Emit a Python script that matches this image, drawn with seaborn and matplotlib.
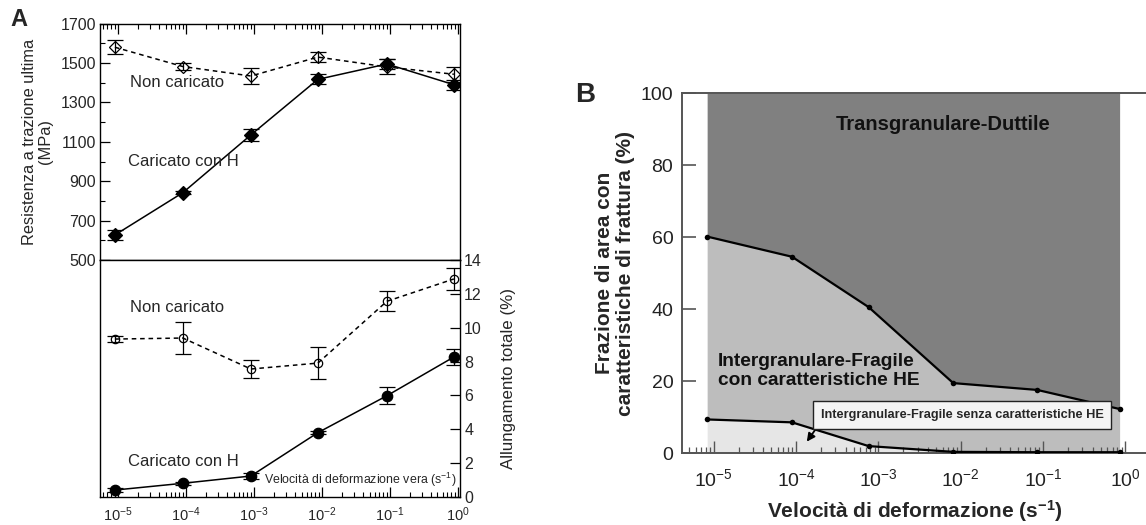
import numpy as np
import pandas as pd
import matplotlib
matplotlib.use('Agg')
import matplotlib.pyplot as plt
import seaborn as sns
from matplotlib.ticker import LogLocator, NullFormatter, MultipleLocator, FixedLocator

sns.set_theme(style='ticks')
plt.rcParams['font.family'] = ['Liberation Sans', 'DejaVu Sans']
plt.rcParams['mathtext.fontset'] = 'custom'
plt.rcParams['mathtext.rm'] = 'Liberation Sans'
plt.rcParams['mathtext.it'] = 'Liberation Sans:italic'
plt.rcParams['mathtext.bf'] = 'Liberation Sans:bold'
plt.rcParams['axes.unicode_minus'] = False

# ---------------- data: panel A ----------------
rate_A = [9e-6, 9e-5, 9e-4, 8.7e-3, 9e-2, 0.87]
uts_unch = [1580, 1482, 1434, 1530, 1480, 1443]
uts_unch_err = [35, 18, 42, 26, 38, 38]
uts_h = [627, 842, 1135, 1417, 1495, 1390]
uts_h_err = [23, 8, 31, 25, 25, 25]
el_unch = [9.33, 9.39, 7.56, 7.91, 11.56, 12.88]
el_unch_err = [0.2, 0.93, 0.55, 0.95, 0.58, 0.66]
el_h = [0.41, 0.81, 1.24, 3.8, 5.98, 8.27]
el_h_err = [0.1, 0.1, 0.15, 0.1, 0.5, 0.45]
uts_ticks = [500, 700, 900, 1100, 1300, 1500, 1700]
el_ticks = [0, 2, 4, 6, 8, 10, 12, 14]

# ---------------- data: panel B ----------------
rate_B = [8.3e-6, 8.9e-5, 7.6e-4, 8.1e-3, 8.5e-2, 0.85]
frac_upper = [60.2, 54.6, 40.6, 19.5, 17.6, 12.3]
frac_lower = [9.4, 8.6, 2.0, 0.4, 0.3, 0.3]
rate_ticks = [1e-5, 1e-4, 1e-3, 1e-2, 1e-1, 1e0]
frac_ticks = [0, 20, 40, 60, 80, 100]

fig = plt.figure(figsize=(11.46, 5.25), dpi=100)
W, H = 1146, 525

def rect(x0, y0, x1, y1):
    return [x0 / W, 1 - y1 / H, (x1 - x0) / W, (y1 - y0) / H]

axT = fig.add_axes(rect(100, 23.6, 460, 260))
axL = fig.add_axes(rect(100, 260, 460, 497))
axB = fig.add_axes(rect(681.7, 93.3, 1160, 453.3))

xlimA = (10 ** -5.265, 10 ** 0.03)
dash = (0, (3, 2.5))
minor_subs = np.arange(2, 10)

def series(ax, x, y, err, marker, filled, ls, ms):
    df = pd.DataFrame({'x': x, 'y': y})
    sns.lineplot(data=df, x='x', y='y', ax=ax, color='black', lw=1.1, linestyle=ls,
                 marker=marker, markersize=ms, markeredgecolor='black',
                 markerfacecolor='black' if filled else 'none', markeredgewidth=0.9,
                 zorder=3)
    ax.errorbar(x, y, yerr=err, fmt='none', ecolor='black', elinewidth=0.9,
                capsize=6, capthick=0.9, zorder=4)

def style_A(ax):
    ax.set_xscale('log')
    ax.set_xlim(*xlimA)
    for s in ax.spines.values():
        s.set_visible(True)
        s.set_color('black')
        s.set_linewidth(1.0)
    ax.xaxis.set_major_locator(FixedLocator(rate_ticks))
    ax.xaxis.set_minor_locator(LogLocator(base=10, subs=minor_subs, numticks=100))
    ax.xaxis.set_minor_formatter(NullFormatter())
    ax.tick_params(which='major', length=7, width=0.9, color='black', direction='in')
    ax.tick_params(which='minor', length=3.5, width=0.8, color='black', direction='in')

# ---- top panel A ----
series(axT, rate_A, uts_unch, uts_unch_err, 'D', False, dash, 6)
series(axT, rate_A, uts_h, uts_h_err, 'D', True, '-', 7)
style_A(axT)
axT.set_ylim(500, 1700)
axT.yaxis.set_major_locator(FixedLocator(uts_ticks))
axT.yaxis.set_minor_locator(MultipleLocator(100))
axT.tick_params(axis='x', which='both', top=True, bottom=False, labelbottom=False,
                labeltop=False)
axT.tick_params(axis='y', which='both', left=True, right=False, labelsize=11.5, pad=3)
axT.set_xlabel('')
axT.set_ylabel('Resistenza a trazione ultima\n(MPa)', fontsize=11.8, labelpad=5,
               linespacing=1.1)
axT.text(10 ** -4.83, 1400, 'Non caricato', fontsize=12, va='center')
axT.text(10 ** -4.86, 1000, 'Caricato con H', fontsize=12, va='center')

# ---- bottom panel A ----
series(axL, rate_A, el_unch, el_unch_err, 'o', False, dash, 6)
series(axL, rate_A, el_h, el_h_err, 'o', True, '-', 7.5)
style_A(axL)
axL.set_ylim(0, 14)
axL.yaxis.tick_right()
axL.yaxis.set_label_position('right')
axL.yaxis.set_major_locator(FixedLocator(el_ticks))
axL.yaxis.set_minor_locator(FixedLocator([]))
axL.tick_params(axis='y', which='both', right=True, left=False, labelsize=11.5, pad=3)
axL.tick_params(axis='x', which='both', bottom=True, top=False)
axL.tick_params(axis='x', which='major', labelsize=10.5, pad=6)
axL.set_xlabel('')
axL.set_ylabel('Allungamento totale (%)', fontsize=12.2, labelpad=14)
axL.text(10 ** -4.83, 11.2, 'Non caricato', fontsize=12, va='center')
axL.text(10 ** -4.86, 2.1, 'Caricato con H', fontsize=12, va='center')
axL.text(10 ** -0.02, 1.0, 'Velocità di deformazione vera (s$^{-1}$)', fontsize=8.9,
         ha='right', va='center')

fig.text(0.009, 0.962, 'A', fontsize=17, fontweight='bold', va='center')

# ---- panel B ----
c_dark, c_mid, c_light = '#808080', '#bdbdbd', '#e6e6e6'
dfu = pd.DataFrame({'x': rate_B, 'y': frac_upper})
dfl = pd.DataFrame({'x': rate_B, 'y': frac_lower})
sns.lineplot(data=dfu, x='x', y='y', ax=axB, color='black', lw=1.6, marker='o',
             markersize=4, markeredgewidth=0, zorder=3)
sns.lineplot(data=dfl, x='x', y='y', ax=axB, color='black', lw=1.6, marker='o',
             markersize=4, markeredgewidth=0, zorder=3)
axB.fill_between(rate_B, frac_upper, 100, color=c_dark, lw=0, zorder=0)
axB.fill_between(rate_B, frac_lower, frac_upper, color=c_mid, lw=0, zorder=0)
axB.fill_between(rate_B, 0, frac_lower, color=c_light, lw=0, zorder=0)
axB.set_xscale('log')
axB.set_xlim(10 ** -5.39, 10 ** 0.42)
axB.set_ylim(0, 100)
for side in ['top', 'bottom', 'left']:
    axB.spines[side].set_visible(True)
    axB.spines[side].set_color('#555555')
    axB.spines[side].set_linewidth(1.4)
axB.spines['right'].set_visible(False)
axB.xaxis.set_major_locator(FixedLocator(rate_ticks))
axB.xaxis.set_minor_locator(LogLocator(base=10, subs=minor_subs, numticks=100))
axB.xaxis.set_minor_formatter(NullFormatter())
axB.yaxis.set_major_locator(FixedLocator(frac_ticks))
axB.yaxis.set_minor_locator(FixedLocator([]))
axB.tick_params(axis='x', which='both', bottom=True, top=False)
axB.tick_params(axis='x', which='major', direction='in', length=8.5, width=1.0,
                color='#555555', labelsize=14, pad=11, labelcolor='#222222')
axB.tick_params(axis='x', which='minor', direction='in', length=4.5, width=0.9,
                color='#555555')
axB.tick_params(axis='y', which='major', direction='in', length=10, width=1.2,
                color='#555555', labelsize=14, pad=6, labelcolor='#222222',
                left=True, right=False)
axB.set_xlabel('Velocità di deformazione (s$^{\\mathbf{-1}}$)', fontsize=15,
               fontweight='bold')
axB.set_ylabel('Frazione di area con\ncaratteristiche di frattura (%)', fontsize=15,
               fontweight='bold', labelpad=4, linespacing=1.15)
axB.xaxis.set_label_coords((915 - 681.7) / (1160 - 681.7), -0.125)
axB.text(10 ** -2.22, 91.2, 'Transgranulare-Duttile', fontsize=14.5, fontweight='bold',
         ha='center', va='center', color='#111111')
axB.text(10 ** -4.95, 22.9, 'Intergranulare-Fragile\ncon caratteristiche HE',
         fontsize=13.8, fontweight='bold', ha='left', va='center', linespacing=1.12,
         color='#111111')
axB.annotate('', xy=(10 ** -3.89, 2.6), xytext=(10 ** -3.71, 8.4),
             arrowprops=dict(arrowstyle='-|>', color='black', lw=1.3,
                             mutation_scale=12), zorder=5)
axB.text(10 ** -3.70, 10.6, 'Intergranulare-Fragile senza caratteristiche HE',
         fontsize=9.2, fontweight='bold', ha='left', va='center', zorder=6,
         bbox=dict(boxstyle='square,pad=0.6', facecolor='#f4f4f4',
                   edgecolor='#222222', lw=1.0))

fig.text(575 / W, 1 - 95 / H, 'B', fontsize=20, fontweight='bold', va='center')

fig.savefig('out.png', dpi=100)
